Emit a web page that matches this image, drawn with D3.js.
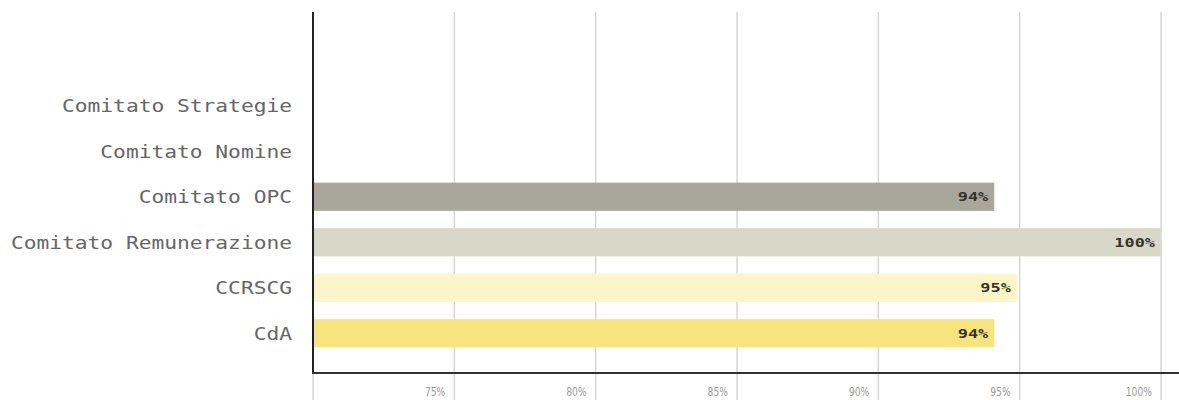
<!DOCTYPE html>
<html>
<head>
<meta charset="utf-8">
<script src="https://cdn.jsdelivr.net/npm/d3@7"></script>
<style>
  html, body { margin: 0; padding: 0; background: #fff; }
  svg { display: block; }
</style>
</head>
<body>
<svg id="chart" width="1179" height="400"></svg>
<script>
const categories = ["Comitato Strategie", "Comitato Nomine", "Comitato OPC", "Comitato Remunerazione", "CCRSCG", "CdA"];
const values = [null, null, 94.1, 100, 94.9, 94.1];
const valueLabels = ["", "", "94%", "100%", "95%", "94%"];
const barColors = ["#a9a79b", "#a9a79b", "#a9a79b", "#d9d7c7", "#fbf5c8", "#f7e47c"];
const tickValues = [75, 80, 85, 90, 95, 100];
const tickLabels = ["75%", "80%", "85%", "90%", "95%", "100%"];

const svg = d3.select("#chart");
const x = d3.scaleLinear().domain([70, 100]).range([313, 1161]);
const y = d3.scaleBand().domain(categories).range([83, 356]).paddingInner(0.38).paddingOuter(0.19);

// gridlines
svg.append("g").selectAll("line").data(tickValues).join("line")
  .attr("x1", d => x(d)).attr("x2", d => x(d))
  .attr("y1", 12).attr("y2", 400)
  .attr("stroke", "#d6d6d6").attr("stroke-width", 1.5);
svg.append("line").attr("x1", x(70)).attr("x2", x(70)).attr("y1", 373).attr("y2", 400)
  .attr("stroke", "#d6d6d6").attr("stroke-width", 1.5);

// bars
const rows = categories.map((c, i) => ({c, v: values[i], lab: valueLabels[i], col: barColors[i]}));
svg.append("g").selectAll("rect").data(rows.filter(r => r.v != null)).join("rect")
  .attr("x", x(70)).attr("y", d => y(d.c))
  .attr("width", d => x(d.v) - x(70)).attr("height", y.bandwidth())
  .attr("fill", d => d.col);

// value labels
svg.append("g").selectAll("text").data(rows.filter(r => r.v != null)).join("text")
  .attr("transform", d => `translate(${x(d.v) - 6},${y(d.c) + y.bandwidth() / 2}) scale(1.3,1)`)
  .attr("text-anchor", "end").attr("dy", "0.35em")
  .attr("font-family", "DejaVu Sans Mono").attr("font-weight", "bold").attr("font-size", 13)
  .attr("fill", "#33332a")
  .text(d => d.lab);

// category labels
svg.append("g").selectAll("text").data(categories).join("text")
  .attr("transform", d => `translate(292,${y(d) + y.bandwidth() / 2}) scale(1.18,1)`)
  .attr("text-anchor", "end").attr("dy", "0.35em")
  .attr("font-family", "DejaVu Sans Mono").attr("font-size", 18)
  .attr("fill", "#666")
  .text(d => d);

// axes lines
svg.append("line").attr("x1", x(70)).attr("x2", x(70)).attr("y1", 12).attr("y2", 373)
  .attr("stroke", "#222").attr("stroke-width", 2);
svg.append("line").attr("x1", x(70) - 1).attr("x2", 1179).attr("y1", 373).attr("y2", 373)
  .attr("stroke", "#333").attr("stroke-width", 2);

// tick labels
svg.append("g").selectAll("text").data(tickValues).join("text")
  .attr("transform", d => `translate(${x(d) - 9},392) scale(0.85,1)`)
  .attr("text-anchor", "end").attr("dy", "0.35em")
  .attr("font-family", "DejaVu Sans Condensed").attr("font-size", 12)
  .attr("fill", "#999")
  .text((d, i) => tickLabels[i]);
</script>
</body>
</html>
